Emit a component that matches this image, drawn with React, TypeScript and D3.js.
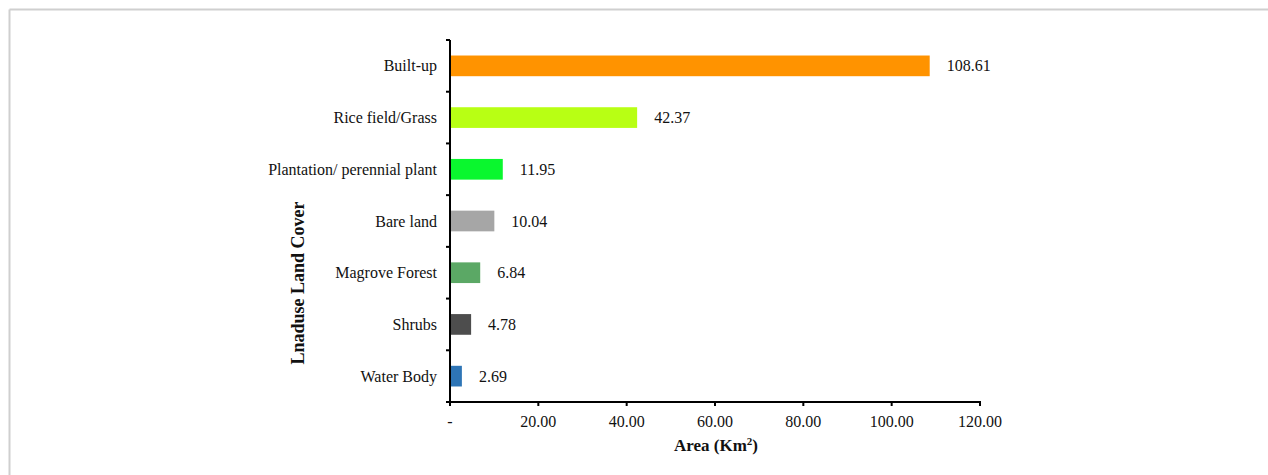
import React from "react";
import * as d3 from "d3";

const categories = ["Built-up", "Rice field/Grass", "Plantation/ perennial plant", "Bare land", "Magrove Forest", "Shrubs", "Water Body"];
const values = [108.61, 42.37, 11.95, 10.04, 6.84, 4.78, 2.69];
const colors = ["#FF9300", "#B8FF14", "#0AF72E", "#A6A6A6", "#5BA865", "#4D4D4D", "#2E75B6"];
const xTicks = [0, 20, 40, 60, 80, 100, 120];

const W = 1268;
const H = 475;
const FONT = "'Liberation Serif', 'Times New Roman', serif";

export default function App() {
  const x = d3.scaleLinear().domain([0, 120]).range([450, 980]);
  const y = d3.scaleBand<string>().domain(categories).range([40, 402]).paddingInner(0.6).paddingOuter(0.3);
  const boundaries = d3.range(categories.length + 1).map((i) => 40 + (i * (402 - 40)) / categories.length);
  const fmt = (v: number) => (v === 0 ? "-" : d3.format(".2f")(v));

  return (
    <div style={{ position: "absolute", left: 0, top: 0 }}>
      <svg width={W} height={H} style={{ display: "block", background: "#fff" }}>
        <line x1={9.5} y1={9.5} x2={W} y2={9.5} stroke="#cfcfcf" strokeWidth={2} />
        <line x1={9.5} y1={9.5} x2={9.5} y2={H} stroke="#cfcfcf" strokeWidth={2} />

        {categories.map((c, i) => (
          <g key={c}>
            <rect x={x(0)} y={y(c)} width={x(values[i]) - x(0)} height={y.bandwidth()} fill={colors[i]} />
            <text x={x(values[i]) + 17} y={(y(c) as number) + y.bandwidth() / 2} dy="0.35em" fontFamily={FONT} fontSize={16} fill="#111">
              {values[i].toFixed(2)}
            </text>
            <text x={437} y={(y(c) as number) + y.bandwidth() / 2} dy="0.35em" textAnchor="end" fontFamily={FONT} fontSize={16} fill="#111">
              {c}
            </text>
          </g>
        ))}

        {boundaries.map((b, i) => (
          <line key={i} x1={x(0) - 4} x2={x(0)} y1={b} y2={b} stroke="#000" strokeWidth={2} />
        ))}
        <line x1={x(0)} x2={x(0)} y1={40} y2={403} stroke="#000" strokeWidth={2} />
        <line x1={x(0) - 1} x2={x(120) + 1} y1={402} y2={402} stroke="#000" strokeWidth={2} />
        {xTicks.map((t) => (
          <g key={t}>
            <line x1={x(t)} x2={x(t)} y1={402} y2={406} stroke="#000" strokeWidth={2} />
            <text x={x(t)} y={421} dy="0.35em" textAnchor="middle" fontFamily={FONT} fontSize={16} fill="#111">
              {fmt(t)}
            </text>
          </g>
        ))}

        <text x={716} y={445} dy="0.35em" textAnchor="middle" fontFamily={FONT} fontSize={17} fontWeight="bold" fill="#111">
          Area (Km<tspan fontSize={11} dy="-6">2</tspan><tspan dy="6">)</tspan>
        </text>
        <text transform={`translate(298, 283) rotate(-90)`} textAnchor="middle" dy="0.35em" fontFamily={FONT} fontSize={18} fontWeight="bold" fill="#111">
          Lnaduse Land Cover
        </text>
      </svg>
    </div>
  );
}
